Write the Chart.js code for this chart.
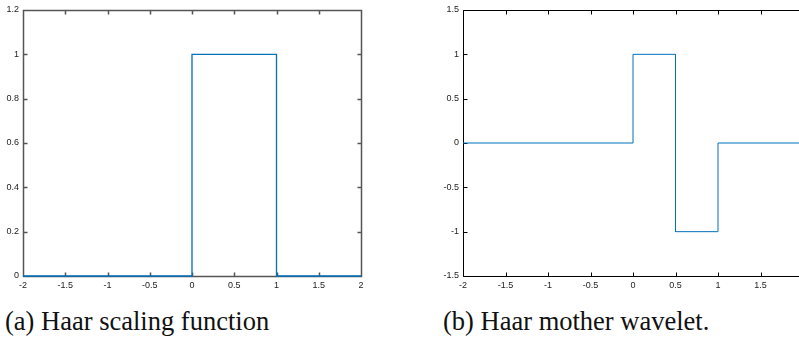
<!DOCTYPE html>
<html><head><meta charset="utf-8">
<script src="https://cdn.jsdelivr.net/npm/chart.js@4"></script>
<style>
html,body{margin:0;padding:0;width:799px;height:340px;overflow:hidden;background:#fff;position:relative}
canvas{position:absolute}
#c1{left:0;top:0}
#c2{left:420px;top:0}
.cap{position:absolute;font-family:"Liberation Serif","DejaVu Serif",serif;font-size:26.5px;color:#111;white-space:nowrap;line-height:1}
</style></head><body>
<canvas id="c1" width="380" height="300"></canvas>
<canvas id="c2" width="400" height="300"></canvas>
<div class="cap" id="cap1" style="left:5px;top:308px"></div>
<div class="cap" id="cap2" style="left:443px;top:308px"></div>
<script>
const scalingX = [-2, 0, 0, 1, 1, 2];
const scalingY = [0, 0, 1, 1, 0, 0];
const waveletX = [-2, 0, 0, 0.5, 0.5, 1, 1, 2];
const waveletY = [0, 0, 1, 1, -1, -1, 0, 0];
const xTickValues = [-2, -1.5, -1, -0.5, 0, 0.5, 1, 1.5, 2];
const yTickValuesScaling = [0, 0.2, 0.4, 0.6, 0.8, 1, 1.2];
const yTickValuesWavelet = [-1.5, -1, -0.5, 0, 0.5, 1, 1.5];
const captionA = "(a) Haar scaling function";
const captionB = "(b) Haar mother wavelet.";

document.getElementById('cap1').textContent = captionA;
document.getElementById('cap2').textContent = captionB;

const boxPlugin = {
  id: 'box',
  beforeDatasetsDraw(chart, args, opts) {
    const { ctx, chartArea: a, scales: { x, y } } = chart;
    const L = 4;
    ctx.save();
    ctx.strokeStyle = opts.color;
    ctx.lineWidth = opts.width;
    const l = Math.round(a.left) + 0.5, r = Math.round(a.right) + 0.5;
    const t = Math.round(a.top) + 0.5, b = Math.round(a.bottom) + 0.5;
    ctx.beginPath();
    ctx.rect(l, t, r - l, b - t);
    x.ticks.forEach(tk => {
      const px = Math.round(x.getPixelForValue(tk.value)) + 0.5;
      ctx.moveTo(px, b); ctx.lineTo(px, b - L);
      ctx.moveTo(px, t); ctx.lineTo(px, t + L);
    });
    y.ticks.forEach(tk => {
      const py = Math.round(y.getPixelForValue(tk.value)) + 0.5;
      ctx.moveTo(l, py); ctx.lineTo(l + L, py);
      ctx.moveTo(r, py); ctx.lineTo(r - L, py);
    });
    ctx.stroke();
    ctx.restore();
  }
};

function makeChart(id, xs, ys, yVals, yMin, yMax, yAxisW, padRight, boxColor, boxWidth, lineW) {
  const tickFont = { family: 'Arial, "Liberation Sans", sans-serif', size: 9 };
  return new Chart(document.getElementById(id), {
    type: 'line',
    data: {
      datasets: [{
        data: xs.map((v, i) => ({ x: v, y: ys[i] })),
        borderColor: '#0072BD',
        borderWidth: lineW,
        pointRadius: 0,
        fill: false,
        tension: 0
      }]
    },
    options: {
      responsive: false,
      animation: false,
      devicePixelRatio: 1,
      clip: false,
      layout: { padding: { top: 10, right: padRight, bottom: 0, left: 0 } },
      plugins: { legend: { display: false }, tooltip: { enabled: false }, box: { color: boxColor, width: boxWidth } },
      scales: {
        x: {
          type: 'linear', min: -2, max: 2,
          afterBuildTicks: s => { s.ticks = xTickValues.map(v => ({ value: v })); },
          afterFit: s => { s.height = 24; },
          ticks: { callback: v => String(v), font: tickFont, color: '#222', padding: 4, maxRotation: 0, autoSkip: false },
          grid: { display: false, drawTicks: false },
          border: { display: false }
        },
        y: {
          type: 'linear', min: yMin, max: yMax,
          afterBuildTicks: s => { s.ticks = yVals.map(v => ({ value: v })); },
          afterFit: s => { s.width = yAxisW; },
          ticks: { callback: v => String(v), font: tickFont, color: '#222', padding: 4, autoSkip: false },
          grid: { display: false, drawTicks: false },
          border: { display: false }
        }
      }
    },
    plugins: [boxPlugin]
  });
}

makeChart('c1', scalingX, scalingY, yTickValuesScaling, 0, 1.2, 23, 19, '#555', 1.5, 1.3);
makeChart('c2', waveletX, waveletY, yTickValuesWavelet, -1.5, 1.5, 43, 17, '#000', 1, 1);
</script>
</body></html>
